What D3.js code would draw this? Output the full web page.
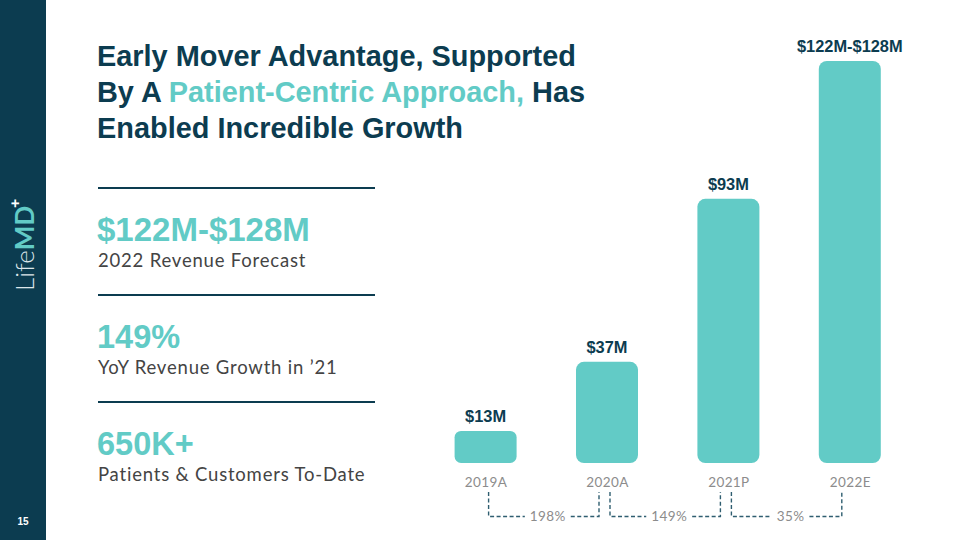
<!DOCTYPE html>
<html><head><meta charset="utf-8">
<script src="https://cdn.jsdelivr.net/npm/d3@7"></script>
<style>
html,body{margin:0;padding:0;background:#fff;}
svg{display:block;}
</style></head>
<body>
<svg id="c" width="960" height="540"></svg>
<script>
// ---- data ----
const categories = ["2019A", "2020A", "2021P", "2022E"];
const barLabels = ["$13M", "$37M", "$93M", "$122M-$128M"];
// bar heights as drawn in the picture, in $M-equivalent units
const plottedValues = [11.3, 35.6, 93, 141.5];
const growthLabels = ["198%", "149%", "35%"];
const statValues = ["$122M-$128M", "149%", "650K+"];
const statCaptions = ["2022 Revenue Forecast", "YoY Revenue Growth in \u201921", "Patients & Customers To-Date"];
const titleLines = [
  [["Early Mover Advantage, Supported", "dark"]],
  [["By A ", "dark"], ["Patient-Centric Approach,", "teal"], [" Has", "dark"]],
  [["Enabled Incredible Growth", "dark"]]
];
const pageNumber = "15";

// ---- style ----
const DARK = "#0c3c50", TEAL = "#62cbc6", BODY = "#444444", GRAY = "#8c8c8c", BRACKET = "#2f5e70";
const BOLD = "'Liberation Sans', Arial, Helvetica, sans-serif";
const LIGHT = "Lato, 'Noto Sans', sans-serif";

const svg = d3.select("#c");

// sidebar
svg.append("rect").attr("x", 0).attr("y", 0).attr("width", 46).attr("height", 540).attr("fill", DARK);
const logo = svg.append("text")
  .attr("transform", "translate(34,291) rotate(-90)")
  .attr("font-size", 26);
logo.append("tspan").text("Life").attr("font-family", LIGHT).attr("font-weight", 300).attr("fill", "#dce6ea");
logo.append("tspan").text("MD").attr("font-family", "Lato, sans-serif").attr("font-weight", 700).attr("fill", TEAL);
logo.append("tspan").text("+").attr("font-family", BOLD).attr("font-weight", 700).attr("font-size", 15).attr("dy", -14).attr("dx", -2).attr("fill", "#ffffff");
svg.append("text").attr("x", 23).attr("y", 525).attr("text-anchor", "middle")
  .attr("font-family", BOLD).attr("font-weight", 700).attr("font-size", 10).attr("fill", "#ffffff").text(pageNumber);

// title
const title = svg.append("text").attr("font-family", BOLD).attr("font-weight", 700).attr("font-size", 28.9);
titleLines.forEach((line, i) => {
  const first = title.append("tspan").attr("x", 97).attr("y", 66 + i * 36);
  line.forEach(([t, c], j) => {
    const sp = j === 0 ? first : title.append("tspan");
    sp.text(t).attr("fill", c === "teal" ? TEAL : DARK);
  });
});

// left stats
statValues.forEach((v, i) => {
  const y0 = 188 + i * 107;
  svg.append("line").attr("x1", 98).attr("x2", 375).attr("y1", y0).attr("y2", y0)
    .attr("stroke", DARK).attr("stroke-width", 2);
  svg.append("text").attr("x", 97).attr("y", y0 + 53).attr("font-family", BOLD).attr("font-weight", 700)
    .attr("font-size", i === 0 ? 33 : 32.5).attr("fill", TEAL).text(v);
  svg.append("text").attr("x", 98).attr("y", y0 + 79).attr("font-family", LIGHT).attr("font-weight", 400)
    .attr("font-size", 18.5).attr("letter-spacing", 0.8).attr("fill", BODY).text(statCaptions[i]);
});

// chart scales
const x = d3.scalePoint().domain(categories).range([485.6, 849.8]);
const y = d3.scaleLinear().domain([0, d3.max(plottedValues)]).range([463, 61]);
const barW = 62;
const data = categories.map((c, i) => ({c, v: plottedValues[i], label: barLabels[i]}));

svg.append("g").selectAll("rect").data(data).join("rect")
  .attr("x", d => x(d.c) - barW / 2)
  .attr("y", d => y(d.v))
  .attr("width", barW)
  .attr("height", d => y(0) - y(d.v))
  .attr("rx", d => Math.min(8, (y(0) - y(d.v)) / 5))
  .attr("fill", TEAL);

svg.append("g").selectAll("text").data(data).join("text")
  .attr("x", d => x(d.c))
  .attr("y", d => y(d.v) - 9)
  .attr("text-anchor", "middle")
  .attr("font-family", BOLD).attr("font-weight", 700).attr("font-size", 16.4)
  .attr("fill", DARK)
  .text(d => d.label);

// x axis labels (no axis line)
const xAxis = d3.axisBottom(x).tickSize(0).tickPadding(0);
const ax = svg.append("g").attr("transform", "translate(0,476)").call(xAxis);
ax.select(".domain").remove();
ax.selectAll("text").attr("font-family", LIGHT).attr("font-size", 13.5).attr("letter-spacing", 0.4).attr("fill", GRAY).attr("dy", "0.85em");

// growth brackets
const yTop = 492, yBot = 516.5;
growthLabels.forEach((g, i) => {
  const xl = x(categories[i]) + 3, xr = x(categories[i + 1]) - 8;
  const mid = (xl + xr) / 2 + 4;
  const grp = svg.append("g");
  const t = grp.append("text").attr("x", mid).attr("y", yBot + 4.5).attr("text-anchor", "middle")
    .attr("font-family", LIGHT).attr("font-size", 13.5).attr("letter-spacing", 0.4).attr("fill", GRAY).text(g);
  const w = t.node().getComputedTextLength();
  const path = d3.path();
  path.moveTo(xl, yTop); path.lineTo(xl, yBot); path.lineTo(mid - w / 2 - 5, yBot);
  path.moveTo(mid + w / 2 + 5, yBot); path.lineTo(xr, yBot); path.lineTo(xr, yTop);
  grp.append("path").attr("d", path.toString()).attr("fill", "none")
    .attr("stroke", BRACKET).attr("stroke-width", 1.4).attr("stroke-dasharray", "4,2.5");
});
</script>
</body></html>
